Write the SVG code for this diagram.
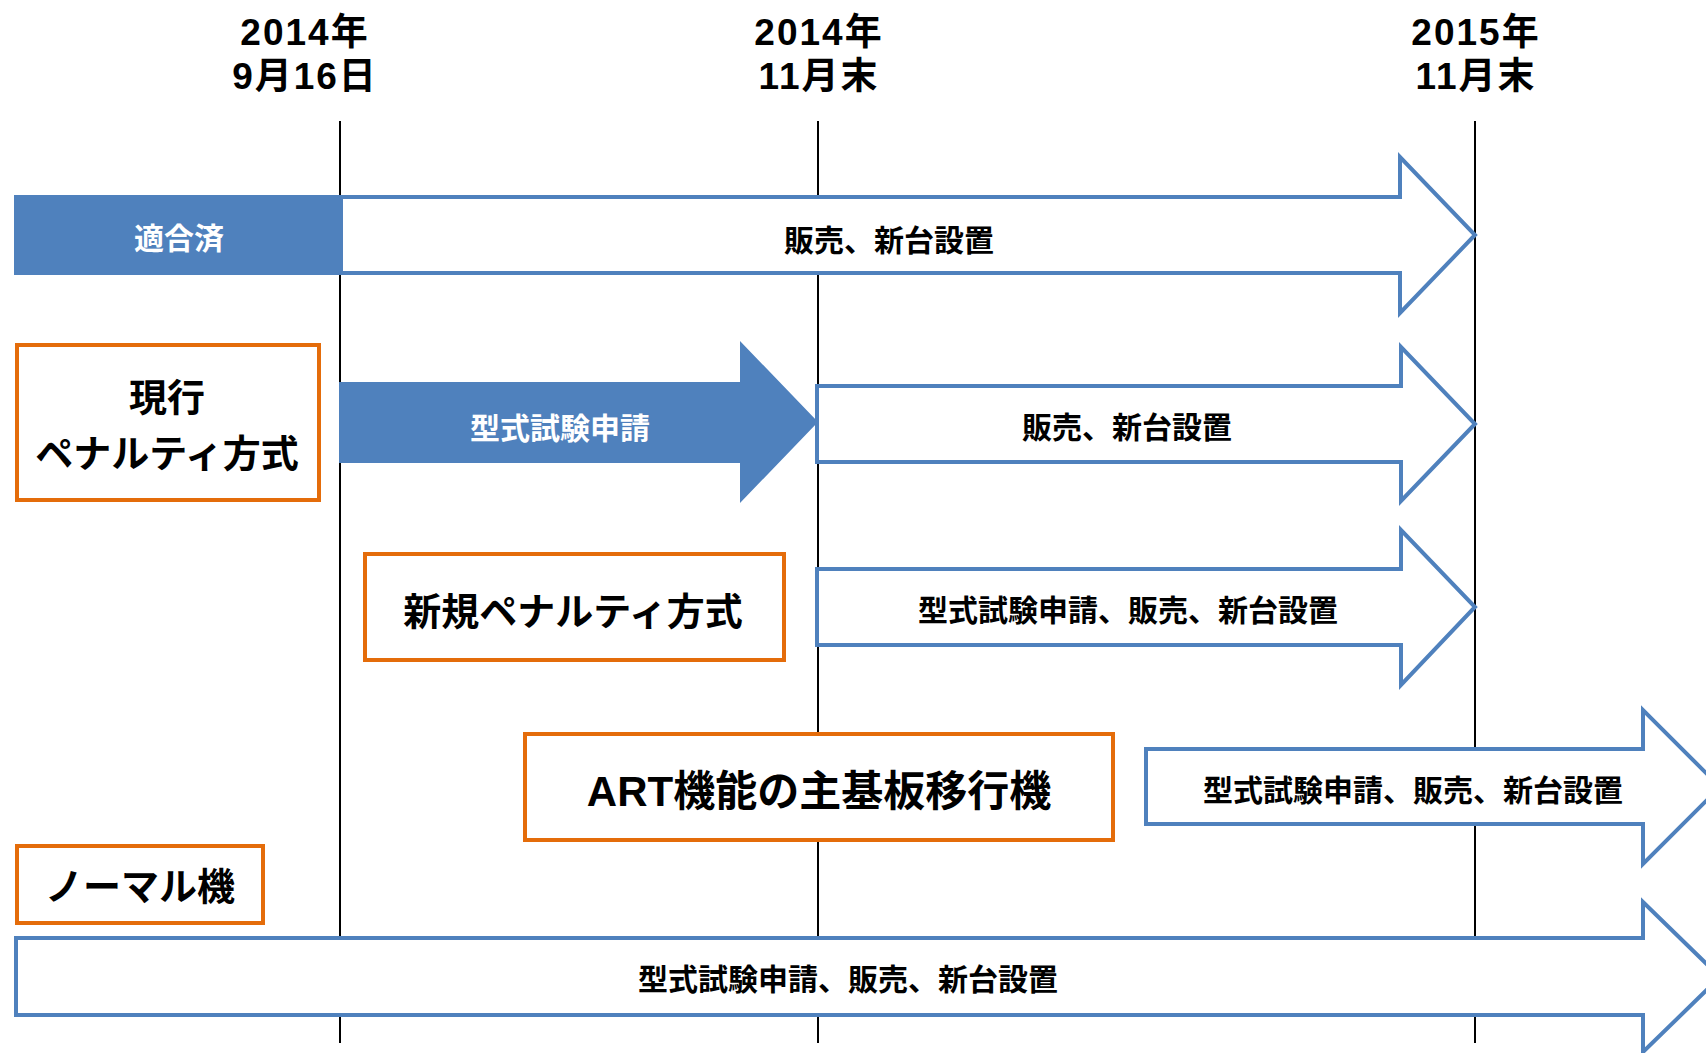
<svg xmlns="http://www.w3.org/2000/svg" width="1706" height="1053" viewBox="0 0 1706 1053">
<style>
.t{font-family:"Liberation Sans","Noto Sans CJK JP",sans-serif;font-weight:bold;text-anchor:middle;fill:#000}
.hd{font-size:37px;letter-spacing:2px}
.lbl{font-size:30px}
.box{font-size:38px}
.w{fill:#fff}
.arw{fill:#fff;stroke:#4F81BD;stroke-width:4;stroke-linejoin:miter}
.arf{fill:#4F81BD;stroke:none}
.ob{fill:#fff;stroke:#E46C0A;stroke-width:4}
.vl{stroke:#000;stroke-width:2}
</style>
<rect width="1706" height="1053" fill="#fff"/>
<g id="timeline">
<line class="vl" x1="340" y1="121" x2="340" y2="1043"/>
<line class="vl" x1="818" y1="121" x2="818" y2="1043"/>
<line class="vl" x1="1475" y1="121" x2="1475" y2="1043"/>
<text class="t hd" x="305" y="45">2014年</text>
<text class="t hd" x="305" y="89">9月16日</text>
<text class="t hd" x="819" y="45">2014年</text>
<text class="t hd" x="819" y="89">11月末</text>
<text class="t hd" x="1476" y="45">2015年</text>
<text class="t hd" x="1476" y="89">11月末</text>
</g>
<g id="connectors">
<polygon class="arw" points="341,197 1400,197 1400,157 1475,235 1400,313 1400,273 341,273"/>
<polygon class="arf" points="339,382 740,382 740,341 818,422 740,503 740,463 339,463"/>
<polygon class="arw" points="817,386 1401,386 1401,347 1475,424 1401,501 1401,462 817,462"/>
<polygon class="arw" points="817,569 1401,569 1401,530 1475,607 1401,685 1401,645 817,645"/>
<polygon class="arw" points="1146,749 1643,749 1643,710 1720,787 1643,864 1643,824 1146,824"/>
<polygon class="arw" points="16,938 1643,938 1643,902 1720,977 1643,1052 1643,1015 16,1015"/>
</g>
<g id="node-tekigozumi">
<rect x="14" y="195" width="329" height="80" fill="#4F81BD"/>
<text class="t lbl w" x="179" y="249">適合済</text>
</g>
<g id="label-row1">
<text class="t lbl" x="889" y="251">販売、新台設置</text>
</g>
<g id="node-genko">
<rect class="ob" x="17" y="345" width="302" height="155"/>
<text class="t box" x="167" y="411">現行</text>
<text class="t box" x="167" y="467">ペナルティ方式</text>
</g>
<g id="label-row2">
<text class="t lbl w" x="560" y="439">型式試験申請</text>
<text class="t lbl" x="1127" y="438">販売、新台設置</text>
</g>
<g id="node-shinki">
<rect class="ob" x="365" y="554" width="419" height="106"/>
<text class="t box" x="573" y="625">新規ペナルティ方式</text>
</g>
<g id="label-row3">
<text class="t lbl" x="1128" y="621">型式試験申請、販売、新台設置</text>
</g>
<g id="node-art">
<rect class="ob" x="525" y="734" width="588" height="106"/>
<text class="t" style="font-size:42px" x="819" y="806">ART機能の主基板移行機</text>
</g>
<g id="label-row4">
<text class="t lbl" x="1413" y="801">型式試験申請、販売、新台設置</text>
</g>
<g id="node-normal">
<rect class="ob" x="17" y="846" width="246" height="77"/>
<text class="t box" x="140" y="900">ノーマル機</text>
</g>
<g id="label-row5">
<text class="t lbl" x="848" y="990">型式試験申請、販売、新台設置</text>
</g>
</svg>
